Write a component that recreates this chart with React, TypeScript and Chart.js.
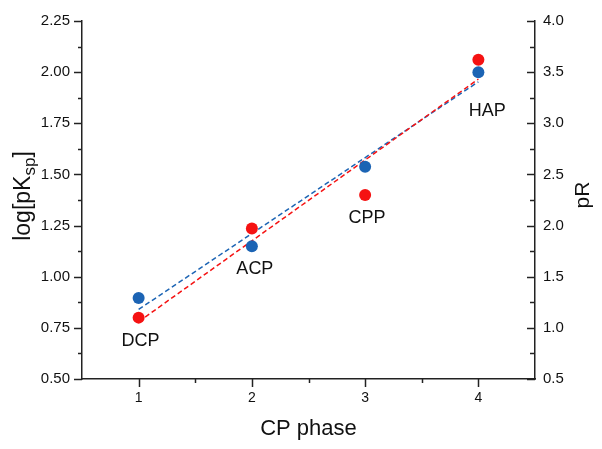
import React, { useEffect, useRef } from "react";
import { Chart, registerables } from "chart.js";

Chart.register(...registerables);

const phases = [1, 2, 3, 4];
const phaseNames = ["DCP", "ACP", "CPP", "HAP"];
const logPKsp = [0.896, 1.149, 1.537, 2.0]; // blue
const pRasLeft = [0.8, 1.236, 1.4, 2.061]; // red (on left-axis scale)
const fitX = [1, 4];
const blueFit = [0.84, 1.953];
const redFit = [0.78, 1.966];
const leftTicks = [0.5, 0.75, 1.0, 1.25, 1.5, 1.75, 2.0, 2.25];
const rightTicks = [0.5, 1.0, 1.5, 2.0, 2.5, 3.0, 3.5, 4.0];

const BLUE = "#1c64b4";
const RED = "#f51212";
const AXIS = "#222222";
const FONT = "'Liberation Sans', Arial, sans-serif";

const toPts = (xs: number[], ys: number[]) => xs.map((x, i) => ({ x, y: ys[i] }));

const decorPlugin = {
  id: "decor",
  afterDraw(chart: any) {
    const { ctx, scales } = chart;
    const x = scales.x, y = scales.y, y1 = scales.y1;
    const area = chart.chartArea;
    ctx.save();
    ctx.strokeStyle = AXIS;
    ctx.lineWidth = 1.5;
    // left ticks (outward)
    for (let v = 0.5; v <= 2.2501; v += 0.125) {
      const major = Math.abs(v / 0.25 - Math.round(v / 0.25)) < 1e-6;
      const py = Math.round(y.getPixelForValue(v)) + 0.5;
      ctx.beginPath();
      ctx.moveTo(area.left - (major ? 8 : 4), py);
      ctx.lineTo(area.left, py);
      ctx.stroke();
    }
    // right ticks (inward)
    for (let v = 0.5; v <= 4.0001; v += 0.25) {
      const major = Math.abs(v / 0.5 - Math.round(v / 0.5)) < 1e-6;
      const py = Math.round(y1.getPixelForValue(v)) + 0.5;
      ctx.beginPath();
      ctx.moveTo(area.right - (major ? 8 : 5), py);
      ctx.lineTo(area.right, py);
      ctx.stroke();
    }
    // bottom ticks (outward)
    for (let v = 1; v <= 4.0001; v += 0.5) {
      const major = Math.abs(v - Math.round(v)) < 1e-6;
      const px = Math.round(x.getPixelForValue(v)) + 0.5;
      ctx.beginPath();
      ctx.moveTo(px, area.bottom);
      ctx.lineTo(px, area.bottom + (major ? 8 : 4));
      ctx.stroke();
    }

    // axis titles
    ctx.fillStyle = "#111";
    ctx.textBaseline = "middle";
    ctx.textAlign = "center";
    ctx.font = `22px ${FONT}`;
    ctx.fillText("CP phase", (area.left + area.right) / 2, 429);

    // right title
    ctx.save();
    ctx.font = `21px ${FONT}`;
    ctx.translate(583, 195);
    ctx.rotate(-Math.PI / 2);
    ctx.fillText("pR", 0, 0);
    ctx.restore();

    // left title with subscript
    ctx.save();
    ctx.translate(22, 196);
    ctx.rotate(-Math.PI / 2);
    ctx.textAlign = "left";
    ctx.textBaseline = "alphabetic";
    const big = `23px ${FONT}`;
    const small = `17px ${FONT}`;
    ctx.font = big;
    const w1 = ctx.measureText("log[pK").width;
    const w3 = ctx.measureText("]").width;
    ctx.font = small;
    const w2 = ctx.measureText("sp").width;
    const total = w1 + w2 + w3;
    let cx = -total / 2;
    const base = 8;
    ctx.font = big;
    ctx.fillText("log[pK", cx, base);
    cx += w1;
    ctx.font = small;
    ctx.fillText("sp", cx, base + 5);
    cx += w2;
    ctx.font = big;
    ctx.fillText("]", cx, base);
    ctx.restore();

    // point labels
    ctx.font = `18px ${FONT}`;
    ctx.textAlign = "center";
    ctx.textBaseline = "middle";
    const anchors = [pRasLeft[0], logPKsp[1], pRasLeft[2], logPKsp[3]];
    const offs = [
      [2, 23],
      [3, 23],
      [2, 23],
      [9, 39],
    ];
    phaseNames.forEach((name, i) => {
      const px = x.getPixelForValue(phases[i]) + offs[i][0];
      const py = y.getPixelForValue(anchors[i]) + offs[i][1];
      ctx.fillText(name, px, py);
    });
    ctx.restore();
  },
};

export default function App() {
  const ref = useRef<HTMLCanvasElement | null>(null);
  useEffect(() => {
    if (!ref.current) return;
    const chart = new Chart(ref.current, {
      type: "scatter",
      data: {
        datasets: [
          {
            type: "line",
            data: toPts(fitX, blueFit),
            borderColor: BLUE,
            borderWidth: 1.5,
            borderDash: [5, 3],
            pointRadius: 0,
            fill: false,
            order: 3,
          } as any,
          {
            type: "line",
            data: toPts(fitX, redFit),
            borderColor: RED,
            borderWidth: 1.5,
            borderDash: [5, 3],
            pointRadius: 0,
            fill: false,
            order: 2,
          } as any,
          {
            data: toPts(phases, logPKsp),
            backgroundColor: BLUE,
            borderColor: BLUE,
            pointRadius: 6,
            borderWidth: 0,
            order: 1,
          },
          {
            data: toPts(phases, pRasLeft),
            backgroundColor: RED,
            borderColor: RED,
            pointRadius: 6,
            borderWidth: 0,
            order: 0,
          },
        ],
      },
      options: {
        responsive: false,
        animation: false,
        layout: { padding: { top: 15, left: 0, right: 0, bottom: 0 } },
        plugins: { legend: { display: false }, tooltip: { enabled: false } },
        scales: {
          x: {
            type: "linear",
            position: "bottom",
            min: 0.5,
            max: 4.5,
            afterBuildTicks: (s: any) => {
              s.ticks = phases.map((v) => ({ value: v }));
            },
            afterFit: (s: any) => {
              s.height = 70;
            },
            grid: { display: false, drawTicks: false },
            border: { display: true, color: AXIS, width: 1.5 },
            ticks: {
              padding: 11,
              color: "#111",
              font: { size: 14, family: FONT },
              callback: (v: any) => String(v),
            },
          },
          y: {
            type: "linear",
            position: "left",
            min: 0.5,
            max: 2.25,
            afterBuildTicks: (s: any) => {
              s.ticks = leftTicks.map((v) => ({ value: v }));
            },
            afterFit: (s: any) => {
              s.width = 82;
            },
            grid: { display: false, drawTicks: false },
            border: { display: true, color: AXIS, width: 1.5 },
            ticks: {
              padding: 12,
              color: "#111",
              font: { size: 15, family: FONT },
              callback: (v: any) => Number(v).toFixed(2),
            },
          },
          y1: {
            type: "linear",
            position: "right",
            min: 0.5,
            max: 4.0,
            afterBuildTicks: (s: any) => {
              s.ticks = rightTicks.map((v) => ({ value: v }));
            },
            afterFit: (s: any) => {
              s.width = 67;
            },
            grid: { display: false, drawTicks: false },
            border: { display: true, color: AXIS, width: 1.5 },
            ticks: {
              padding: 8,
              color: "#111",
              font: { size: 15, family: FONT },
              callback: (v: any) => Number(v).toFixed(1),
            },
          },
        },
      },
      plugins: [decorPlugin],
    });
    return () => chart.destroy();
  }, []);
  return (
    <div style={{ position: "fixed", left: 0, top: 0, width: 602, height: 449, background: "#fff" }}>
      <canvas ref={ref} width={602} height={449} style={{ width: 602, height: 449 }} />
    </div>
  );
}
